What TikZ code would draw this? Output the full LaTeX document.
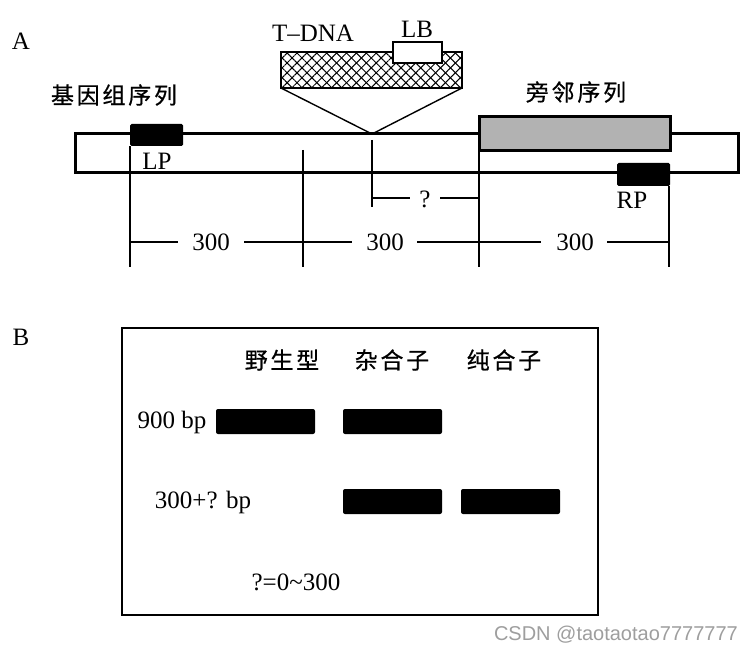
\documentclass[tikz,border=0pt]{standalone}
\usepackage{fontspec}
\setmainfont{Liberation Serif}
\newfontfamily\cjk[LetterSpace=12,FakeBold=0.6]{Noto Sans CJK SC}
\newfontfamily\wmfont{Liberation Sans}
\usetikzlibrary{patterns.meta}
\begin{document}
\begin{tikzpicture}[x=1pt,y=-1pt,
  thickline/.style={line width=3pt},
  thinline/.style={line width=1.4pt},
  lbl/.style={inner sep=0pt, font=\fontsize{25}{27}\selectfont},
  cn/.style={inner sep=0pt, font=\cjk\fontsize{23}{25}\selectfont},
  boxat/.style={anchor=north west, inner sep=0pt, outer sep=0pt},
  primer/.style={boxat, fill=black, rounded corners=1.5pt},
  band/.style={boxat, fill=black, rounded corners=2pt, minimum width=99pt, minimum height=25pt}]
\useasboundingbox (0,0) rectangle (749,647);
\fill[white] (0,0) rectangle (749,647);

% ---------- panel A ----------
\node[lbl] (A) at (21,41) {A};
\node[boxat, draw, thickline, minimum width=663pt, minimum height=39pt] (bar) at (75,134) {};
\node[boxat, draw, thickline, fill=black!30, minimum width=191pt, minimum height=34pt] (flank) at (479,117) {};
\node[primer, minimum width=53pt, minimum height=22pt] (LP) at (130,124) {};
\node[primer, minimum width=53pt, minimum height=23pt] (RP) at (617,163) {};
\node[lbl] (LPt) at (157,161) {LP};
\node[lbl] (RPt) at (632,200) {RP};
\node[cn] (genome) at (114,95) {基因组序列};
\node[cn] (flanktxt) at (576,92) {旁邻序列};

% T-DNA insert
\node[boxat, draw, line width=2.4pt, minimum width=181pt, minimum height=36pt,
  preaction={fill=white},
  preaction={pattern={Lines[angle=45,distance=7pt,line width=1pt]}},
  pattern={Lines[angle=-45,distance=7pt,line width=1pt]}] (tdna) at (281,52) {};
\node[boxat, draw, line width=2pt, fill=white, minimum width=49pt, minimum height=21pt] (LB) at (393,42) {};
\node[lbl] (LBt) at (417,29) {LB};
\node[lbl] (tdnat) at (313,33) {T--DNA};
\coordinate (apex) at (372,134);
\draw[thinline] (tdna.south west) -- (apex) -- (tdna.south east);

% vertical guide lines
\coordinate (v1t) at (130,146); \coordinate (v1b) at (130,267);
\coordinate (v2t) at (303,150); \coordinate (v2b) at (303,267);
\coordinate (v3t) at (372,140); \coordinate (v3b) at (372,207);
\coordinate (v4t) at (479,151); \coordinate (v4b) at (479,267);
\coordinate (v5t) at (669,186); \coordinate (v5b) at (669,267);
\foreach \i in {1,...,5} {\draw[thinline] (v\i t) -- (v\i b);}

% "?" dimension
\node[lbl] (q) at (425,199) {?};
\coordinate (q1) at (372,198); \coordinate (q2) at (410,198);
\coordinate (q3) at (440,198); \coordinate (q4) at (479,198);
\draw[thinline] (q1) -- (q2);
\draw[thinline] (q3) -- (q4);

% 300 dimensions
\node[lbl] (d1) at (211,242) {300};
\node[lbl] (d2) at (385,242) {300};
\node[lbl] (d3) at (575,242) {300};
\coordinate (s0) at (130,242); \coordinate (s1) at (178,242);
\coordinate (s2) at (244,242); \coordinate (s3) at (352,242);
\coordinate (s4) at (417,242); \coordinate (s5) at (541,242);
\coordinate (s6) at (607,242); \coordinate (s7) at (669,242);
\draw[thinline] (s0) -- (s1);
\draw[thinline] (s2) -- (s3);
\draw[thinline] (s4) -- (s5);
\draw[thinline] (s6) -- (s7);

% ---------- panel B ----------
\node[lbl] (B) at (21,337) {B};
\node[boxat, draw, line width=2.4pt, minimum width=476pt, minimum height=287pt] (gel) at (122,328) {};
\node[cn] (wt) at (282,360) {野生型};
\node[cn] (het) at (392,360) {杂合子};
\node[cn] (hom) at (504,360) {纯合子};
\node[band] (b1) at (216,409) {};
\node[band] (b2) at (343,409) {};
\node[band] (b3) at (343,489) {};
\node[band] (b4) at (461,489) {};
\node[lbl, anchor=base] (l900) at (172,428) {900 bp};
\node[lbl, anchor=base] (l300) at (203,508) {300+? bp};
\node[lbl, anchor=base] (lq) at (296,590) {?=0\textasciitilde300};

% watermark
\node[inner sep=0pt, anchor=base east, text=black!38, font=\wmfont\fontsize{20}{22}\selectfont] (wm) at (738,640) {CSDN @taotaotao7777777};
\end{tikzpicture}
\end{document}
